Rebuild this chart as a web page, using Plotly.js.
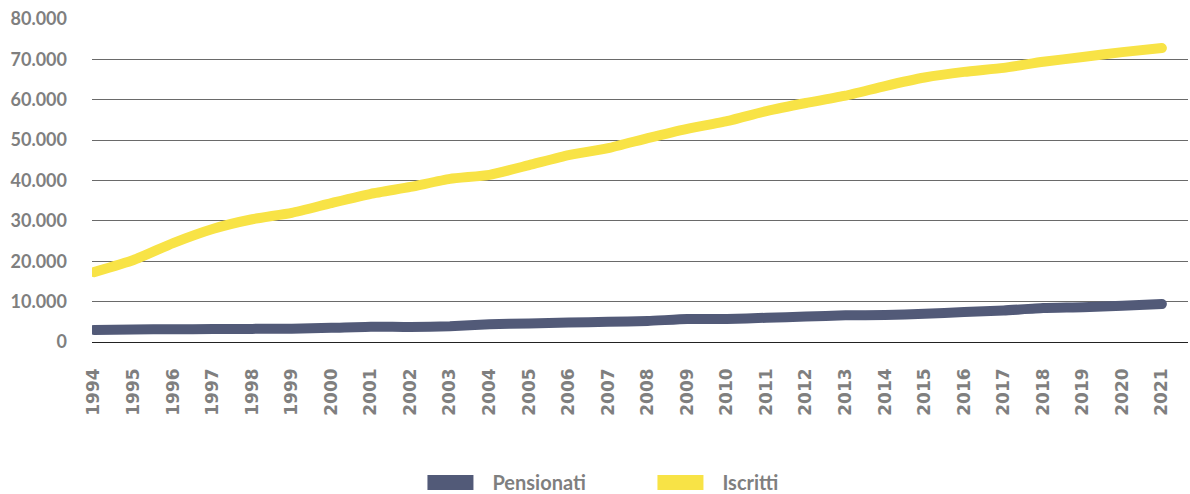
<!DOCTYPE html>
<html>
<head>
<meta charset="utf-8">
<script src="https://cdn.plot.ly/plotly-3.0.1.min.js"></script>
<style>
  html, body { margin: 0; padding: 0; background: #fff; }
  #chart { width: 1190px; height: 494px; }
</style>
</head>
<body>
<div id="chart"></div>
<script>
// Anni
const years = ['1994', '1995', '1996', '1997', '1998', '1999', '2000', '2001', '2002', '2003',
               '2004', '2005', '2006', '2007', '2008', '2009', '2010', '2011', '2012', '2013',
               '2014', '2015', '2016', '2017', '2018', '2019', '2020', '2021'];

// Pensionati
const pensionati = [3000, 3100, 3150, 3200, 3250, 3300, 3500, 3800, 3700, 3900,
                    4400, 4600, 4800, 5000, 5200, 5700, 5700, 6000, 6300, 6600,
                    6700, 7000, 7400, 7800, 8400, 8600, 9000, 9400];

// Iscritti
const iscritti = [17300, 20300, 24500, 28000, 30400, 32000, 34400, 36700, 38400, 40400,
                  41400, 43800, 46300, 48000, 50500, 52800, 54700, 57200, 59200, 61000,
                  63400, 65500, 66900, 67900, 69400, 70600, 71800, 72800];

const yTicks = [0, 10000, 20000, 30000, 40000, 50000, 60000, 70000, 80000];

const yFont = { family: 'Lato, "Open Sans", sans-serif', size: 18, color: '#7f7f7f', weight: 'bold' };
const xFont = { family: '"DejaVu Sans", sans-serif', size: 17, color: '#7f7f7f', weight: 'bold' };

const traces = [
    {
        x: years,
        y: pensionati,
        type: 'scatter',
        mode: 'lines',
        name: 'Pensionati',
        line: { color: '#525a78', width: 10, shape: 'spline', smoothing: 0.5 }
    },
    {
        x: years,
        y: iscritti,
        type: 'scatter',
        mode: 'lines',
        name: 'Iscritti',
        line: { color: '#f8e346', width: 10, shape: 'spline', smoothing: 0.5 }
    }
];

const layout = {
    width: 1190,
    height: 494,
    margin: { l: 92, r: 2, t: 19, b: 152, autoexpand: false },
    paper_bgcolor: '#ffffff',
    plot_bgcolor: '#ffffff',
    separators: ',.',
    showlegend: true,
    font: yFont,
    xaxis: {
        type: 'category',
        range: [-0.05, 27.66],
        tickangle: -90,
        tickfont: xFont,
        showgrid: false,
        zeroline: false,
        showline: false,
        ticks: '',
        ticklabelstandoff: 22,
        fixedrange: true
    },
    yaxis: {
        range: [0, 80000],
        tickvals: yTicks,
        tickformat: ',d',
        tickfont: yFont,
        showgrid: true,
        gridcolor: '#6a6a6a',
        gridwidth: 1,
        zeroline: true,
        zerolinecolor: '#222222',
        zerolinewidth: 1,
        showline: false,
        ticks: '',
        ticklabelstandoff: 24,
        fixedrange: true
    },
    legend: {
        orientation: 'h',
        xref: 'container',
        yref: 'paper',
        x: 0.355,
        xanchor: 'left',
        y: -0.435,
        yanchor: 'middle',
        itemwidth: 60,
        entrywidth: 155,
        font: { family: 'Lato, "Open Sans", sans-serif', size: 20, color: '#7f7f7f', weight: 'bold' },
        bgcolor: 'rgba(0,0,0,0)'
    }
};

Plotly.newPlot('chart', traces, layout, { displayModeBar: false, staticPlot: true }).then(function(gd) {
    // round line ends like the original
    gd.querySelectorAll('.scatterlayer .js-line').forEach(function(p) {
        p.style.strokeLinecap = 'round';
    });
    // legend swatches: thick short bars
    gd.querySelectorAll('.legend .legendlines path').forEach(function(p) {
        p.setAttribute('d', 'M5,0h46');
        p.style.strokeWidth = '15px';
        p.style.strokeLinecap = 'butt';
    });
});
</script>
</body>
</html>
